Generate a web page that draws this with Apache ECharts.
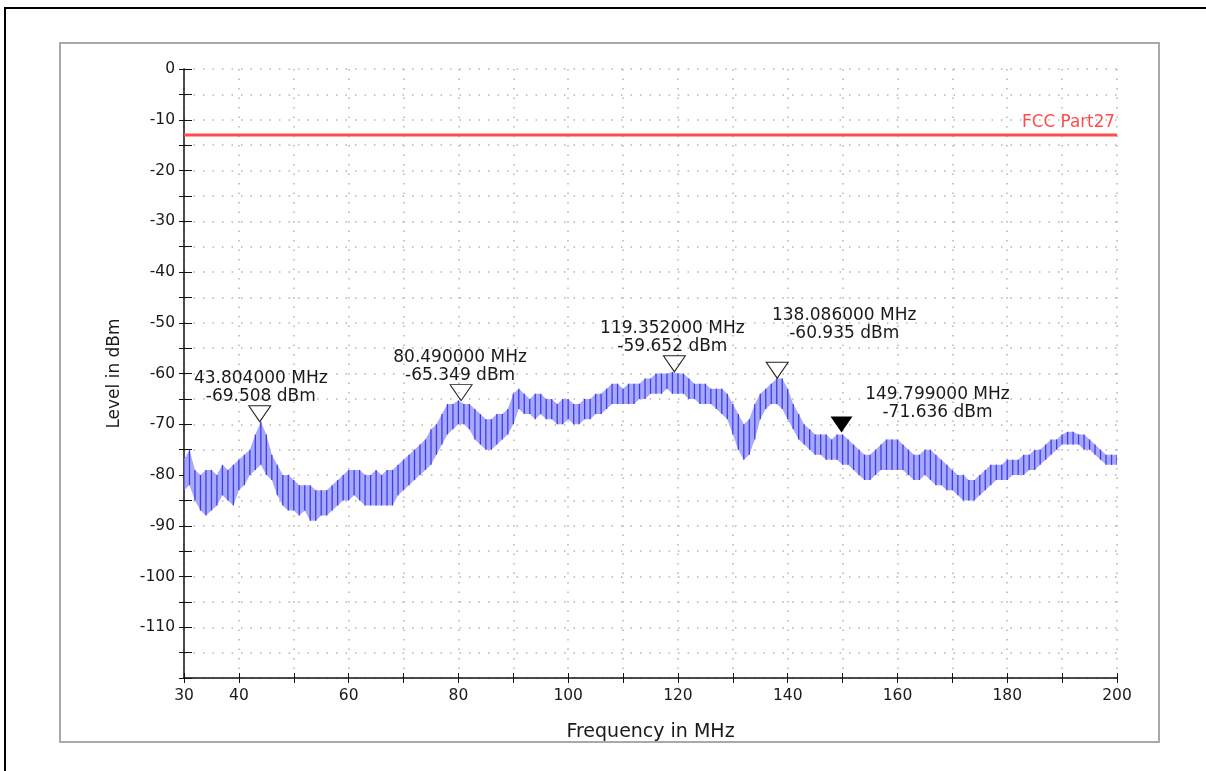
<!DOCTYPE html>
<html>
<head>
<meta charset="utf-8">
<title>Spurious emission 30-200 MHz</title>
<script src="https://cdn.jsdelivr.net/npm/echarts@6/dist/echarts.min.js"></script>
<style>
html, body { margin: 0; padding: 0; background: #fff; }
#chart { width: 1206px; height: 771px; }
</style>
</head>
<body>
<div id="chart"></div>
<script>
// frequency grid of the trace (MHz)
var freq = [
	30, 31, 32, 33, 34, 35, 36, 37, 38, 39,
	40, 41, 42, 43, 44, 45, 46, 47, 48, 49,
	50, 51, 52, 53, 54, 55, 56, 57, 58, 59,
	60, 61, 62, 63, 64, 65, 66, 67, 68, 69,
	70, 71, 72, 73, 74, 75, 76, 77, 78, 79,
	80, 81, 82, 83, 84, 85, 86, 87, 88, 89,
	90, 91, 92, 93, 94, 95, 96, 97, 98, 99,
	100, 101, 102, 103, 104, 105, 106, 107, 108, 109,
	110, 111, 112, 113, 114, 115, 116, 117, 118, 119,
	120, 121, 122, 123, 124, 125, 126, 127, 128, 129,
	130, 131, 132, 133, 134, 135, 136, 137, 138, 139,
	140, 141, 142, 143, 144, 145, 146, 147, 148, 149,
	150, 151, 152, 153, 154, 155, 156, 157, 158, 159,
	160, 161, 162, 163, 164, 165, 166, 167, 168, 169,
	170, 171, 172, 173, 174, 175, 176, 177, 178, 179,
	180, 181, 182, 183, 184, 185, 186, 187, 188, 189,
	190, 191, 192, 193, 194, 195, 196, 197, 198, 199,
	200
];
// upper edge of the trace (dBm)
var levelHigh = [
	-77, -75, -79, -80, -79, -79, -80, -78, -79, -78,
	-77, -76, -75, -72, -69.5, -72, -76, -78, -80, -80,
	-81, -82, -82, -82, -83, -83, -83, -82, -81, -80,
	-79, -79, -79, -80, -80, -79, -80, -79, -79, -78,
	-77, -76, -75, -74, -73, -71, -70, -68, -66, -66,
	-65.3, -66, -66, -67, -68, -69, -69, -68, -68, -67,
	-64, -63, -64, -65, -64, -64, -65, -65, -66, -65,
	-65, -66, -66, -65, -65, -64, -64, -63, -62, -62,
	-63, -62, -62, -62, -61, -61, -60, -60, -60, -59.7,
	-60, -60, -61, -62, -62, -62, -63, -63, -63, -64,
	-66, -68, -70, -69, -66, -64, -63, -62, -61, -61,
	-63, -66, -68, -70, -71, -72, -72, -72, -73, -72,
	-72, -73, -74, -75, -76, -76, -75, -74, -73, -73,
	-73, -74, -75, -76, -76, -75, -75, -76, -77, -78,
	-79, -80, -80, -81, -81, -80, -79, -78, -78, -78,
	-77, -77, -77, -76, -76, -75, -75, -74, -73, -73,
	-72, -71.5, -71.5, -72, -72, -73, -74, -75, -76, -76,
	-76
];
// lower edge of the trace (dBm)
var levelLow = [
	-83, -82, -85, -87, -88, -87, -86, -84, -85, -86,
	-83, -82, -80, -79, -78, -80, -81, -84, -86, -87,
	-87, -88, -87, -89, -89, -88, -88, -87, -86, -85,
	-85, -84, -85, -86, -86, -86, -86, -86, -86, -84,
	-83, -82, -81, -80, -79, -78, -76, -74, -72, -71,
	-70, -70, -71, -73, -74, -75, -75, -74, -73, -72,
	-70, -67, -68, -68, -69, -68, -69, -69, -70, -70,
	-69, -70, -70, -69, -69, -68, -68, -67, -66, -66,
	-66, -66, -66, -65, -65, -64, -64, -64, -63, -64,
	-64, -64, -65, -65, -66, -66, -66, -67, -68, -69,
	-72, -75, -77, -76, -73, -69, -67, -66, -66, -67,
	-69, -71, -73, -74, -75, -76, -76, -77, -77, -77,
	-78, -78, -79, -80, -81, -81, -80, -79, -79, -79,
	-79, -79, -80, -81, -81, -80, -81, -82, -82, -83,
	-83, -84, -85, -85, -85, -84, -83, -82, -81, -81,
	-81, -80, -80, -80, -79, -79, -78, -77, -76, -75,
	-74, -74, -74, -74, -75, -75, -76, -77, -78, -78,
	-78
];

// limit line
var limitName = 'FCC Part27';
var limitFreq = [30, 200];
var limitLevel = [-13, -13];

// peak markers
var markerFreq = [43.804, 80.49, 119.352, 138.086, 149.799];
var markerLevel = [-69.508, -65.349, -59.652, -60.935, -71.636];

// axis labels
var xTickLabels = [30, 40, 60, 80, 100, 120, 140, 160, 180, 200];
var yTickLabels = [0, -10, -20, -30, -40, -50, -60, -70, -80, -90, -100, -110];

var FONT = 'DejaVu Sans';
var TEXT = '#1a1a1a';

// where each marker text sits relative to its triangle
var markerLabelShift = [[1, 0], [-1, 0], [-2, 0], [67, -19], [96, 5]];

var chartDom = document.getElementById('chart');
var myChart = echarts.init(chartDom, null, { renderer: 'canvas' });

var traceData = [];
for (var i = 0; i < freq.length; i++) {
	traceData.push([freq[i], levelHigh[i], levelLow[i]]);
}

var limitData = [];
for (var i = 0; i < limitFreq.length; i++) {
	limitData.push({ value: [limitFreq[i], limitLevel[i]] });
}
limitData[limitData.length - 1].label = {
	show: true,
	position: 'top',
	align: 'right',
	distance: 3,
	offset: [-2, 0],
	formatter: limitName,
	color: '#ff4b4b',
	fontFamily: FONT,
	fontSize: 16.8
};

// the last marker is the active (filled) one
var markerData = [];
for (var i = 0; i < markerFreq.length; i++) {
	var active = i == markerFreq.length - 1;
	markerData.push({
		value: [markerFreq[i], markerLevel[i]],
		itemStyle: {
			color: active ? '#000' : 'rgba(255,255,255,0)',
			borderColor: '#222',
			borderWidth: active ? 0 : 1,
			opacity: 1
		},
		label: {
			offset: markerLabelShift[i]
		}
	});
}

var dotted = { color: '#b4b4b4', width: 1.5, type: [1.5, 8] };

var option = {
	animation: false,
	backgroundColor: '#fff',
	textStyle: { fontFamily: FONT },
	graphic: [
		{
			type: 'rect', silent: true, z: -10,
			shape: { x: 5, y: 8, width: 1240, height: 820 },
			style: { fill: 'none', stroke: '#000', lineWidth: 2 }
		},
		{
			type: 'rect', silent: true, z: -10,
			shape: { x: 60, y: 43, width: 1099, height: 699 },
			style: { fill: 'none', stroke: '#a9a9a9', lineWidth: 2 }
		}
	],
	grid: {
		left: 184,
		right: 89,
		top: 69,
		bottom: 93,
		outerBoundsMode: 'none'
	},
	xAxis: [{
		type: 'value',
		min: 30,
		max: 200,
		interval: 10,
		name: 'Frequency in MHz',
		nameLocation: 'middle',
		nameGap: 45,
		nameTextStyle: { color: TEXT, fontFamily: FONT, fontSize: 19 },
		axisLine: { onZero: false, lineStyle: { color: '#111', width: 1.5 } },
		axisTick: { length: 5, lineStyle: { color: '#111' } },
		axisLabel: {
			margin: 10,
			color: TEXT,
			fontFamily: FONT,
			fontSize: 15.5,
			interval: 0,
			formatter: function (v) {
				return xTickLabels.indexOf(v) >= 0 ? String(v) : '';
			}
		},
		splitLine: { show: true, lineStyle: dotted }
	}, {
		type: 'value',
		position: 'bottom',
		min: 30,
		max: 200,
		interval: 10,
		axisLine: { show: false, onZero: false },
		axisTick: { inside: true, length: 5, lineStyle: { color: '#111' } },
		axisLabel: { show: false },
		splitLine: { show: false }
	}],
	yAxis: [{
		type: 'value',
		min: -120,
		max: 0,
		interval: 5,
		name: 'Level in dBm',
		nameLocation: 'middle',
		nameGap: 61,
		nameTextStyle: { color: TEXT, fontFamily: FONT, fontSize: 17 },
		axisLine: { show: true, onZero: false, lineStyle: { color: '#111', width: 1.5 } },
		axisTick: { show: true, length: 5, lineStyle: { color: '#111' } },
		axisLabel: {
			margin: 9,
			color: TEXT,
			fontFamily: FONT,
			fontSize: 15.5,
			interval: 0,
			formatter: function (v) {
				return yTickLabels.indexOf(v) >= 0 ? String(v) : '';
			}
		},
		splitLine: { show: true, lineStyle: dotted }
	}, {
		type: 'value',
		position: 'left',
		min: -120,
		max: 0,
		interval: 5,
		axisLine: { show: false, onZero: false },
		axisTick: { show: true, inside: true, length: 8, lineStyle: { color: '#111' } },
		axisLabel: { show: false },
		splitLine: { show: false }
	}],
	series: [
		{
			// light band between the trace edges
			type: 'custom',
			name: 'band',
			data: traceData,
			encode: { x: 0, y: [1, 2] },
			clip: true,
			z: 2,
			renderItem: function (params, api) {
				if (params.dataIndex !== 0) return;
				var pts = [];
				for (var k = 0; k < traceData.length; k++) {
					pts.push(api.coord([traceData[k][0], traceData[k][1]]));
				}
				for (var k = traceData.length - 1; k >= 0; k--) {
					pts.push(api.coord([traceData[k][0], traceData[k][2]]));
				}
				return {
					type: 'polygon',
					shape: { points: pts },
					style: { fill: '#a8a8f8', stroke: 'none' }
				};
			}
		},
		{
			// the trace itself, drawn as vertical sweeps
			type: 'custom',
			name: 'trace',
			data: traceData,
			encode: { x: 0, y: [1, 2] },
			clip: true,
			z: 3,
			renderItem: function (params, api) {
				var p1 = api.coord([api.value(0), api.value(1)]);
				var p2 = api.coord([api.value(0), api.value(2)]);
				return {
					type: 'line',
					shape: { x1: p1[0], y1: p1[1], x2: p2[0], y2: p2[1] },
					style: { stroke: '#3d3df0', lineWidth: 1.3 }
				};
			}
		},
		{
			type: 'line',
			name: limitName,
			data: limitData,
			symbol: 'circle',
			symbolSize: 1,
			showSymbol: true,
			itemStyle: { color: '#ff4b4b' },
			z: 4,
			lineStyle: { color: '#ff4b4b', width: 3 }
		},
		{
			type: 'scatter',
			name: 'markers',
			data: markerData,
			symbol: 'path://M0,0 L22,0 L11,16 Z',
			symbolSize: [22, 16],
			symbolOffset: [0, -8],
			itemStyle: { opacity: 1 },
			z: 5,
			label: {
				show: true,
				position: 'top',
				distance: 0,
				align: 'center',
				color: TEXT,
				opacity: 1,
				fontFamily: FONT,
				fontSize: 17,
				lineHeight: 18,
				formatter: function (p) {
					return p.value[0].toFixed(6) + ' MHz\n' + p.value[1].toFixed(3) + ' dBm';
				}
			}
		}
	]
};

myChart.setOption(option);
</script>
</body>
</html>
